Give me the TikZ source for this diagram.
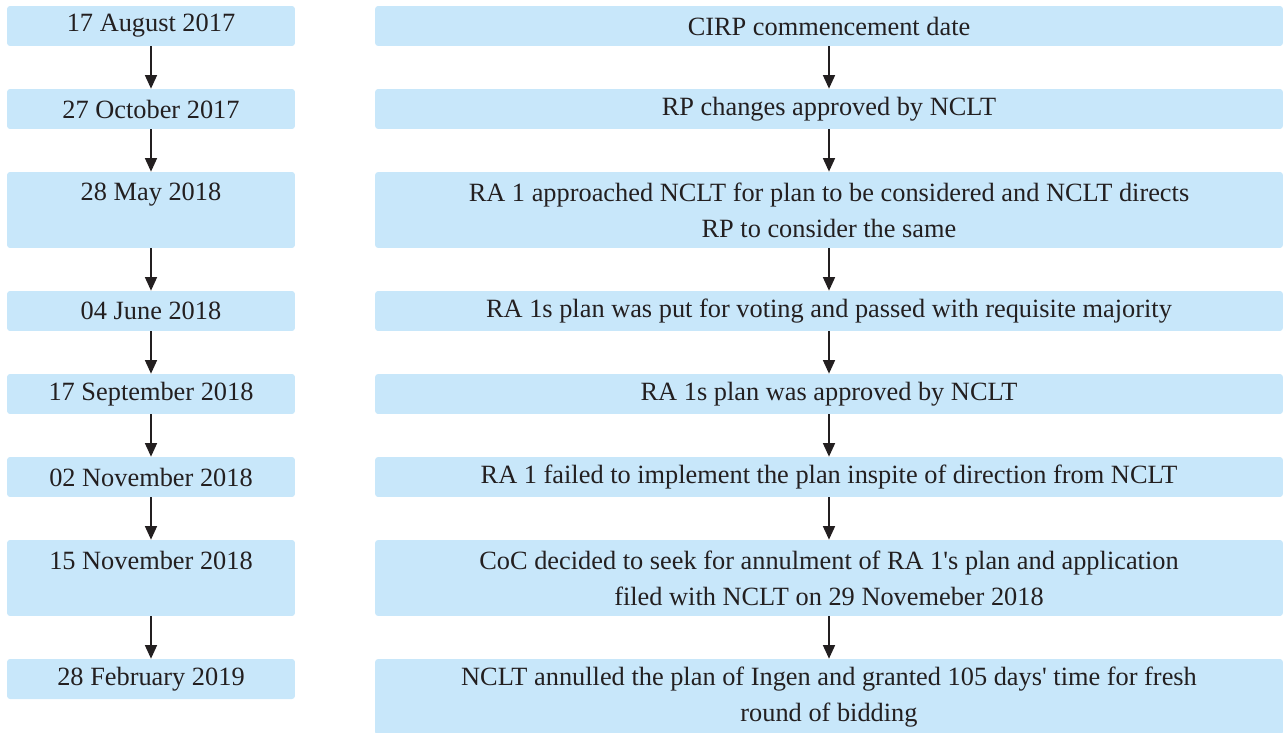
\documentclass[tikz,border=0pt]{standalone}
\usepackage{fontspec}
\setmainfont{Liberation Serif}
\usetikzlibrary{arrows.meta}

\definecolor{boxblue}{HTML}{C8E7FA}
\definecolor{inkgray}{HTML}{231F20}

\tikzset{
  datebox/.style={fill=boxblue, rounded corners=0.06cm, inner sep=0pt,
    minimum width=5.76cm, minimum height=0.8cm, align=center, text=inkgray},
  eventbox/.style={datebox, minimum width=18.16cm},
  tallbox/.style={minimum height=1.52cm},
  flowarrow/.style={draw=inkgray, line width=0.8pt,
    -{Triangle[width=0.24cm,length=0.27cm]}}
}

\begin{document}
\begin{tikzpicture}[x=0.02cm, y=-0.02cm, every node/.style={font=\fontsize{15}{20.4}\selectfont}]
  \useasboundingbox (0,0) rectangle (1285,733);

  % dates
  \node[datebox] (d1) at (151,26) {17 August 2017};
  \node[datebox] (d2) at (151,109) {27 October 2017};
  \node[datebox, tallbox] (d3) at (151,210) {28 May 2018\\\mbox{}};
  \node[datebox] (d4) at (151,311) {04 June 2018};
  \node[datebox] (d5) at (151,394) {17 September 2018};
  \node[datebox] (d6) at (151,477) {02 November 2018};
  \node[datebox, tallbox] (d7) at (151,578) {15 November 2018\\\mbox{}};
  \node[datebox] (d8) at (151,679) {28 February 2019};

  % events
  \node[eventbox] (e1) at (829,26) {CIRP commencement date};
  \node[eventbox] (e2) at (829,109) {RP changes approved by NCLT};
  \node[eventbox, tallbox] (e3) at (829,210)
    {RA 1 approached NCLT for plan to be considered and NCLT directs\\RP to consider the same};
  \node[eventbox] (e4) at (829,311)
    {RA 1s plan was put for voting and passed with requisite majority};
  \node[eventbox] (e5) at (829,394) {RA 1s plan was approved by NCLT};
  \node[eventbox] (e6) at (829,477)
    {RA 1 failed to implement the plan inspite of direction from NCLT};
  \node[eventbox, tallbox] (e7) at (829,578)
    {CoC decided to seek for annulment of RA 1\textquotesingle s plan and application\\filed with NCLT on 29 Novemeber 2018};
  \node[eventbox, tallbox] (e8) at (829,697)
    {NCLT annulled the plan of Ingen and granted 105 days\textquotesingle{} time for fresh\\round of bidding};

  % arrows
  \foreach \a/\b in {1/2,2/3,3/4,4/5,5/6,6/7,7/8} {
    \draw[flowarrow] (d\a.south) -- (d\b.north);
    \draw[flowarrow] (e\a.south) -- (e\a.south |- e\b.north);
  }
\end{tikzpicture}
\end{document}
